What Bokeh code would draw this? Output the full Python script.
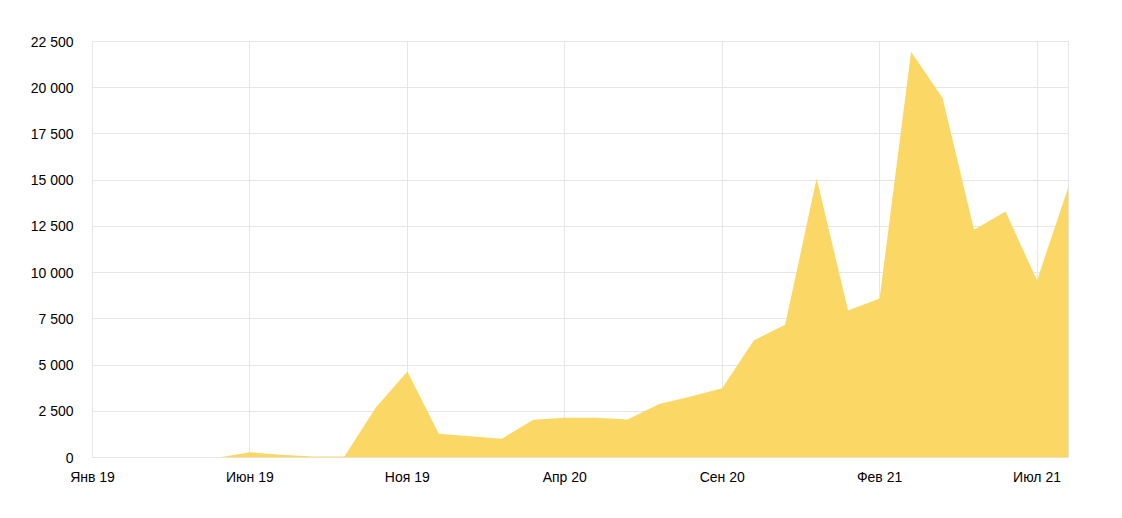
from bokeh.plotting import figure
from bokeh.models import FixedTicker
from bokeh.embed import file_html
from bokeh.resources import INLINE

months = ["Янв 19", "Фев 19", "Мар 19", "Апр 19", "Май 19", "Июн 19", "Июл 19", "Авг 19",
          "Сен 19", "Окт 19", "Ноя 19", "Дек 19", "Янв 20", "Фев 20", "Мар 20", "Апр 20",
          "Май 20", "Июн 20", "Июл 20", "Авг 20", "Сен 20", "Окт 20", "Ноя 20", "Дек 20",
          "Янв 21", "Фев 21", "Мар 21", "Апр 21", "Май 21", "Июн 21", "Июл 21", "Авг 21"]
values = [0, 0, 0, 0, 0, 280, 150, 50,
          50, 2700, 4650, 1280, 1150, 1010, 2040, 2150,
          2150, 2060, 2900, 3300, 3750, 6330, 7180, 15100,
          7950, 8600, 21950, 19450, 12320, 13300, 9580, 14650]
x_tick_months = ["Янв 19", "Июн 19", "Ноя 19", "Апр 20", "Сен 20", "Фев 21", "Июл 21"]
y_ticks = [0, 2500, 5000, 7500, 10000, 12500, 15000, 17500, 20000, 22500]

xs = list(range(len(months)))
base = [0] * len(months)

p = figure(width=1110, height=508, output_backend="svg", toolbar_location=None,
           x_range=(0, len(months) - 1), y_range=(0, 22500),
           min_border_left=92, min_border_right=42, min_border_top=41, min_border_bottom=51)
p.varea(x=xs, y1=base, y2=values, fill_color="#FBD866", fill_alpha=1.0)

tick_idx = [months.index(m) for m in x_tick_months]
p.xaxis.ticker = FixedTicker(ticks=tick_idx)
p.xaxis.major_label_overrides = {i: months[i] for i in tick_idx}
p.yaxis.ticker = FixedTicker(ticks=y_ticks)
p.yaxis.major_label_overrides = {v: f"{v:,}".replace(",", " ") for v in y_ticks}

for ax in (p.xaxis[0], p.yaxis[0]):
    ax.axis_line_color = None
    ax.major_tick_line_color = None
    ax.minor_tick_line_color = None
    ax.major_label_text_font = "Liberation Sans"
    ax.major_label_text_font_size = "14px"
    ax.major_label_text_color = "#000000"
p.yaxis.major_label_standoff = 13
p.xaxis.major_label_standoff = 5

p.xgrid.ticker = FixedTicker(ticks=tick_idx)
p.xgrid.grid_line_color = "#e6e6e6"
p.ygrid.grid_line_color = "#e6e6e6"
p.xgrid.level = "underlay"
p.ygrid.level = "underlay"
p.outline_line_color = "#e6e6e6"
p.background_fill_color = "white"
p.border_fill_color = "white"

open("out.html", "w").write(file_html(p, INLINE))
